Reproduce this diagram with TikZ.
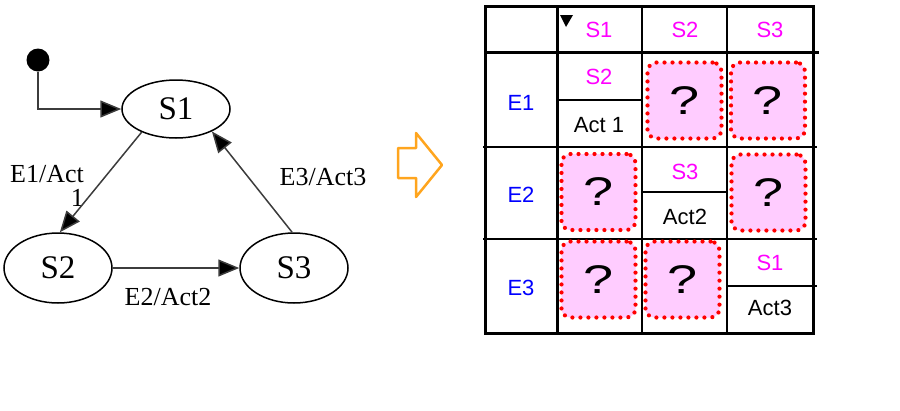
\documentclass[tikz,border=0pt]{standalone}
\usepackage{fontspec}
\setmainfont{Liberation Serif}
\newfontfamily\tabfont{Liberation Sans}
\usetikzlibrary{shapes.geometric,arrows.meta}
\definecolor{mag}{RGB}{255,0,255}
\definecolor{eblue}{RGB}{0,0,255}
\definecolor{orng}{RGB}{255,165,30}
\definecolor{pinkfill}{RGB}{255,204,255}
\definecolor{dotred}{RGB}{255,0,0}
\definecolor{edgegray}{RGB}{60,60,60}
\begin{document}
\begin{tikzpicture}[x=1pt,y=-1pt,
  state/.style={ellipse,draw=black,line width=1.5pt,inner sep=0pt,minimum width=108pt,font=\fontsize{33}{36}\selectfont},
  trans/.style={draw=edgegray,line width=1.5pt,-{Triangle[length=21pt,width=17pt,fill=black]}},
  elabel/.style={font=\fontsize{26}{24}\selectfont,inner sep=0pt},
  thickline/.style={line width=3pt,line cap=rect},
  thinline/.style={line width=2pt},
  hdr/.style={text=mag,font=\tabfont\fontsize{22}{22}\selectfont,inner sep=0pt},
  evt/.style={text=eblue,font=\tabfont\fontsize{22}{22}\selectfont,inner sep=0pt},
  act/.style={text=black,font=\tabfont\fontsize{22}{22}\selectfont,inner sep=0pt},
  qbox/.style={draw=dotred,fill=pinkfill,rounded corners=9pt,minimum width=74pt,minimum height=76pt,
    line width=4.2pt,dash pattern=on 0pt off 8pt,line cap=round,inner sep=0pt,
    font=\tabfont\fontsize{40}{40}\selectfont}
]
\useasboundingbox (0,0) rectangle (900,410);

% ---------- state diagram ----------
\node[circle,fill=black,minimum size=23pt,inner sep=0pt] (init) at (38,60) {};
\node[state,minimum height=58pt] (S1) at (176,109) {S1};
\node[state,minimum height=70pt] (S2) at (58,268) {S2};
\node[state,minimum height=70pt] (S3) at (294,268) {S3};

\node[elabel,anchor=north east,align=right] (l1) at (84,165) {E1/Act\\1};
\node[elabel] (l3) at (323,177) {E3/Act3};
\node[elabel] (l2) at (168,297) {E2/Act2};

\draw[trans] (init) |- (S1);
\draw[trans] (S1.214) -- (S2.87);
\draw[trans] (S3.93) -- (S1.328);
\draw[trans] (S2.east) -- (S3.west);

% ---------- hollow arrow ----------
\draw[orng,line width=2.5pt,line join=round]
  (398,148) -- (416,148) -- (416,133) -- (442,165) -- (416,197) -- (416,178) -- (398,178) -- cycle;

% ---------- table ----------
\draw[thinline] (642,6) -- (642,333);
\draw[thinline] (727,6) -- (727,333);
\draw[thinline] (483,147) -- (817,147);
\draw[thinline] (483,239) -- (817,239);
\draw[thinline] (557,100) -- (642,100);
\draw[thinline] (642,192) -- (727,192);
\draw[thinline] (727,286) -- (817,286);
\draw[thickline] (485,52) -- (817,52);
\draw[thickline] (557,6) -- (557,333);
\draw[thickline] (485,6) rectangle (813,333);
\fill (560,15) -- (573,15) -- (566,27) -- cycle;

\node[hdr] (h1) at (599,30) {S1};
\node[hdr] (h2) at (685,30) {S2};
\node[hdr] (h3) at (770,30) {S3};

\node[evt] (e1) at (521,103) {E1};
\node[evt] (e2) at (521,195) {E2};
\node[evt] (e3) at (521,288) {E3};

\node[hdr] (n11) at (599,77) {S2};
\node[act] (a11) at (599,125) {Act 1};
\node[hdr] (n22) at (685,172) {S3};
\node[act] (a22) at (685,217) {Act2};
\node[hdr] (n33) at (770,263) {S1};
\node[act] (a33) at (770,308) {Act3};

\node[qbox] (q12) at (684.5,100.5) {\scalebox{1.35}[1]{?}};
\node[qbox] (q13) at (768,100.5) {\scalebox{1.35}[1]{?}};
\node[qbox] (q21) at (598.5,192) {\scalebox{1.35}[1]{?}};
\node[qbox] (q23) at (768.5,192.5) {\scalebox{1.35}[1]{?}};
\node[qbox] (q31) at (598.5,279.5) {\scalebox{1.35}[1]{?}};
\node[qbox] (q32) at (682.5,279.5) {\scalebox{1.35}[1]{?}};
\end{tikzpicture}
\end{document}
